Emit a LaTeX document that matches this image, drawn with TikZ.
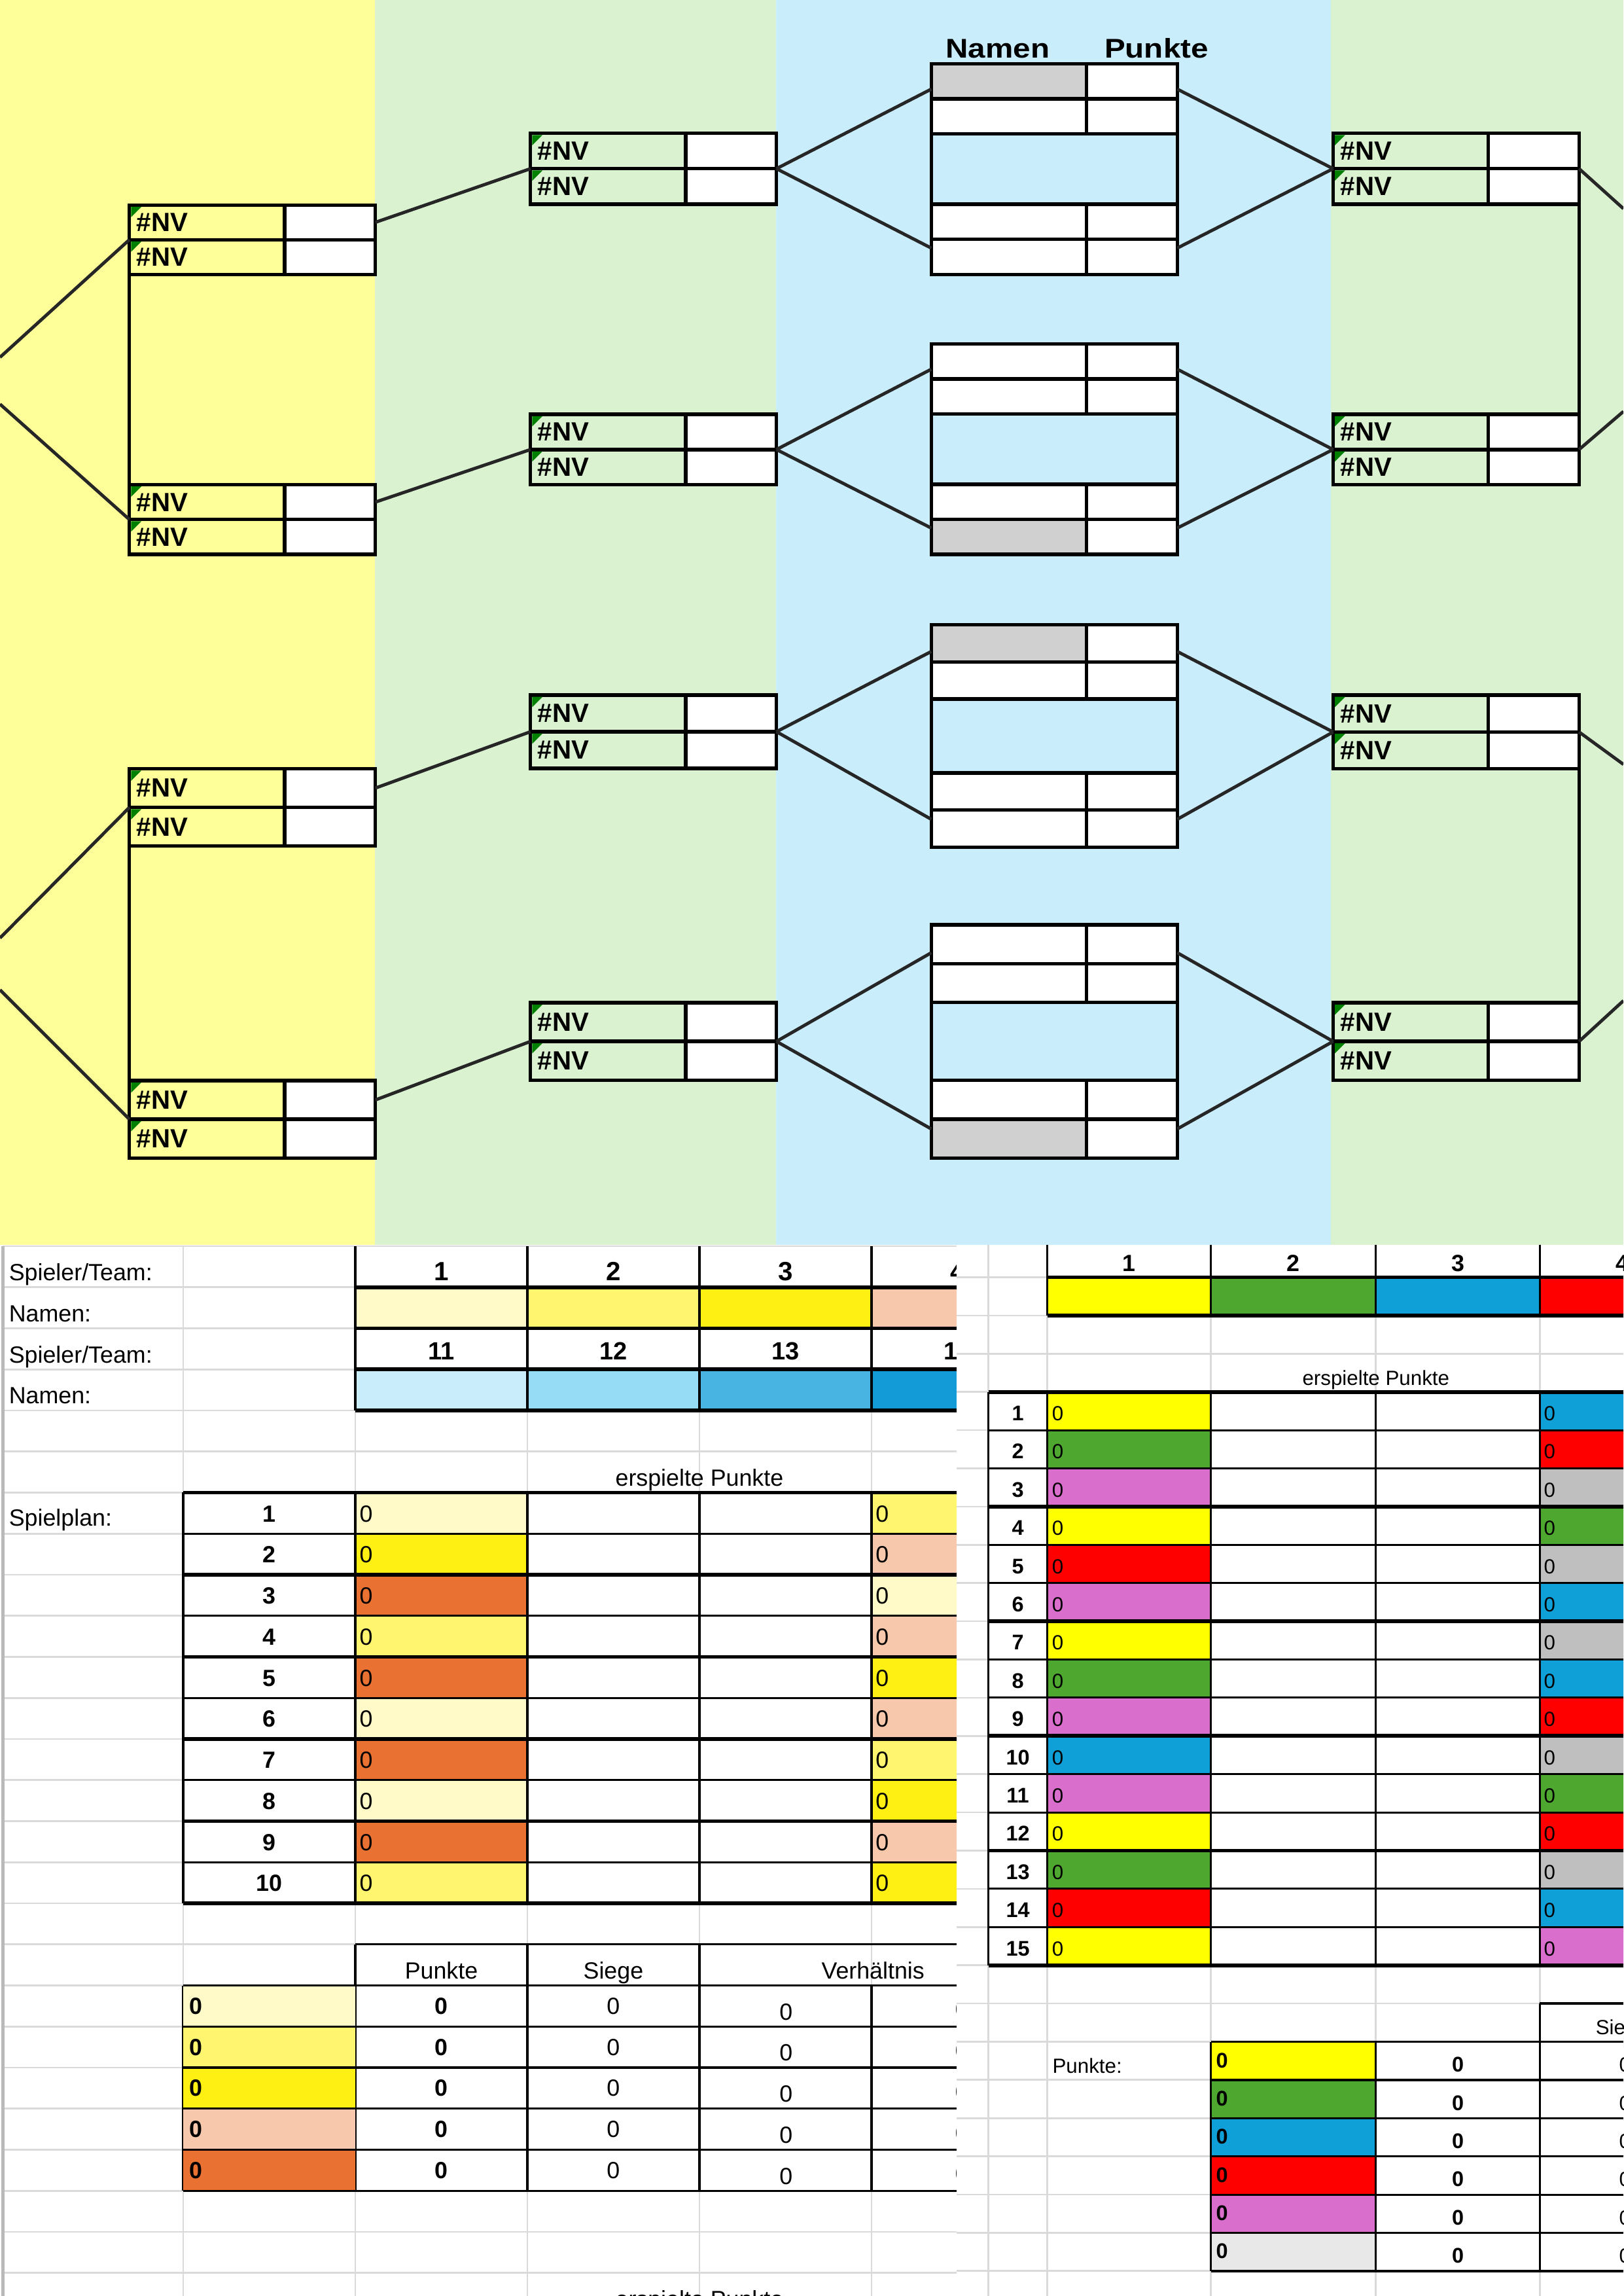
\documentclass[tikz,border=0pt]{standalone}
\usepackage{fontspec}
\setmainfont{Liberation Sans}
\newfontfamily\widefont[FakeStretch=1.15]{Liberation Sans}
\usepackage{tikz}
\usetikzlibrary{positioning}

\definecolor{yellowbg}{RGB}{255,255,153}
\definecolor{greenbg}{RGB}{218,242,208}
\definecolor{bluebg}{RGB}{202,237,251}
\definecolor{cellgray}{RGB}{208,208,208}
\definecolor{errgreen}{RGB}{0,128,0}
\definecolor{gridgray}{RGB}{218,218,218}
\definecolor{linegray}{RGB}{38,38,38}
% left sheet
\definecolor{lcream}{RGB}{255,250,200}
\definecolor{lymid}{RGB}{255,245,110}
\definecolor{lybright}{RGB}{255,240,20}
\definecolor{lpeach}{RGB}{248,200,172}
\definecolor{lorange}{RGB}{233,113,50}
\definecolor{lblueA}{RGB}{202,237,251}
\definecolor{lblueB}{RGB}{150,220,245}
\definecolor{lblueC}{RGB}{72,180,225}
\definecolor{lblueD}{RGB}{18,155,215}
% right sheet
\definecolor{xyellow}{RGB}{255,255,0}
\definecolor{xgreen}{RGB}{78,167,46}
\definecolor{xblue}{RGB}{16,160,216}
\definecolor{xred}{RGB}{255,0,0}
\definecolor{xpink}{RGB}{217,110,205}
\definecolor{xsilver}{RGB}{191,191,191}
\definecolor{xlight}{RGB}{232,232,232}

% two-row box: #1 name, #2 left, #3 top, #4 row height
\newcommand{\nvbox}[4]{%
  \node[namecell, minimum height=#4pt] (#1-a) at (#2,#3) {\#NV};
  \node[pointcell, minimum height=#4pt, right=0pt of #1-a] (#1-ap) {};
  \node[namecell, minimum height=#4pt, below=0pt of #1-a] (#1-b) {\#NV};
  \node[pointcell, minimum height=#4pt, right=0pt of #1-b] (#1-bp) {};
  \foreach \cell in {#1-a,#1-b}
    \fill[errgreen] ([shift={(1.2,1.2)}]\cell.north west) -- ++(7,0) -- ++(-7,7) -- cycle;
}
% semifinal box: two rows, open middle, two rows; #5/#6 fill of first/last name cell
\newcommand{\ptbox}[6]{%
  \pgfmathsetmacro\gap{2*#4}
  \node[blankcell, fill=#5, minimum height=#4pt] (#1-1) at (#2,#3) {};
  \node[pointcell, minimum height=#4pt, right=0pt of #1-1] (#1-1p) {};
  \node[blankcell, minimum height=#4pt, below=0pt of #1-1] (#1-2) {};
  \node[pointcell, minimum height=#4pt, right=0pt of #1-2] (#1-2p) {};
  \node[blankcell, minimum height=#4pt, below=\gap pt of #1-2] (#1-3) {};
  \node[pointcell, minimum height=#4pt, right=0pt of #1-3] (#1-3p) {};
  \node[blankcell, fill=#6, minimum height=#4pt, below=0pt of #1-3] (#1-4) {};
  \node[pointcell, minimum height=#4pt, right=0pt of #1-4] (#1-4p) {};
  \draw[boxline] (#1-2.south west) -- (#1-3.north west);
  \draw[boxline] (#1-2p.south east) -- (#1-3p.north east);
  \path (#1-1.north west) ++(0,0.72*#4) coordinate (#1-ul) ++(0,4.53*#4) coordinate (#1-ll);
  \path (#1-1p.north east) ++(0,0.72*#4) coordinate (#1-ur) ++(0,4.53*#4) coordinate (#1-lr);
}

\begin{document}
\begin{tikzpicture}[x=1pt,y=1pt,yscale=-1,
  namecell/.style={draw, line width=2.4pt, outer sep=0pt, anchor=north west, minimum width=106pt,
    text width=96pt, inner xsep=5pt, inner ysep=0pt, align=left, font=\bfseries\fontsize{18}{18}\selectfont},
  pointcell/.style={draw, fill=white, line width=2.4pt, outer sep=0pt, anchor=north west, minimum width=62pt, inner sep=0pt},
  blankcell/.style={draw, fill=white, line width=2.4pt, outer sep=0pt, anchor=north west, minimum width=106pt, inner sep=0pt},
  boxline/.style={line width=2.4pt},
  link/.style={draw=linegray, line width=2.2pt},
  colhead/.style={inner sep=0pt, font=\widefont\bfseries\fontsize{18.5}{20}\selectfont},
  sheetgrid/.style={draw=gridgray, line width=1.2pt},
  thinrule/.style={line width=1.4pt},
  thickrule/.style={line width=2.6pt},
  ltext/.style={inner sep=0pt, font=\fontsize{16}{18}\selectfont},
  lbold/.style={inner sep=0pt, font=\bfseries\fontsize{16}{18}\selectfont},
  lhead/.style={inner sep=0pt, font=\bfseries\fontsize{18}{20}\selectfont},
  rtext/.style={inner sep=0pt, font=\fontsize{14}{16}\selectfont},
  rbold/.style={inner sep=0pt, font=\bfseries\fontsize{14.5}{16}\selectfont}]
\useasboundingbox (0,0) rectangle (1109,1568);
\clip (0,0) rectangle (1109,1568);
\fill[white] (0,0) rectangle (1109,1568);

% bracket backgrounds
\fill[yellowbg] (0,0) rectangle (256,850);
\fill[greenbg] (256,0) rectangle (530,850);
\fill[bluebg] (530,0) rectangle (909,850);
\fill[greenbg] (909,0) rectangle (1109,850);

% rounds 1, 2 and 4
\foreach \nm/\bx/\by/\bh in {r1a/88.4/140/23.7, r1b/88.4/331/23.8, r1c/88.4/525/26.4, r1d/88.4/738/26.4,
    r2a/362.4/91/24.2, r2b/362.4/283/24, r2c/362.4/474.7/25, r2d/362.4/684.8/26.4,
    r4a/910.7/91/24.2, r4b/910.7/283/24, r4c/910.7/474.7/25.2, r4d/910.7/684.8/26.4}
  {\nvbox{\nm}{\bx}{\by}{\bh}}
% round 3
\foreach \nm/\bx/\by/\bh/\ca/\cb in {r3a/636.2/43.6/23.97/cellgray/white, r3b/636.2/234.9/23.95/white/cellgray,
    r3c/636.2/426.7/25.3/cellgray/white, r3d/636.2/631.5/26.57/white/cellgray}
  {\ptbox{\nm}{\bx}{\by}{\bh}{\ca}{\cb}}

% Text Node
\node[colhead, anchor=base] (hnam) at (681.6,39.5) {Namen};
% Text Node
\node[colhead, anchor=base] (hpkt) at (790,39.5) {Punkte};

\draw[boxline] (r1a-b.south west) -- (r1b-a.north west);
\draw[boxline] (r1c-b.south west) -- (r1d-a.north west);
\draw[boxline] (r4a-bp.south east) -- (r4b-ap.north east);
\draw[boxline] (r4c-bp.south east) -- (r4d-ap.north east);

\coordinate (ina) at (0,244);
\coordinate (inb) at (0,276);
\coordinate (inc) at (0,640.6);
\coordinate (ind) at (0,676);
\coordinate (outa) at (1109,142.5);
\coordinate (outb) at (1109,281);
\coordinate (outc) at (1109,522);
\coordinate (outd) at (1109,683.4);

\draw[link] (ina) -- (r1a-a.south west);
\draw[link] (inb) -- (r1b-a.south west);
\draw[link] (inc) -- (r1c-a.south west);
\draw[link] (ind) -- (r1d-a.south west);
\foreach \k in {a,b,c,d}{
  \draw[link] (r1\k-ap.east) -- (r2\k-a.south west);
  \draw[link] (r2\k-ap.south east) -- (r3\k-ul);
  \draw[link] (r2\k-ap.south east) -- (r3\k-ll);
  \draw[link] (r3\k-ur) -- (r4\k-a.south west);
  \draw[link] (r3\k-lr) -- (r4\k-a.south west);
  \draw[link] (r4\k-ap.south east) -- (out\k);
}

% ---- left sheet ----
\begin{scope}
\clip (0,850) rectangle (653.4,1568);
\foreach \r in {0,...,26}
  \draw[sheetgrid] (2,{851+28.05*\r}) -- (653.4,{851+28.05*\r});
\foreach \c in {125.15,242.7,360.25,477.8,595.35}
  \draw[sheetgrid] (\c,851) -- (\c,1568);
\draw[sheetgrid, line width=2.2pt, draw=gray!55] (2,851) -- (2,1568);

\foreach \c/\col in {0/lcream,1/lymid,2/lybright,3/lpeach}
  \fill[\col] ({242.7+117.55*\c},879.05) rectangle ++(117.55,28.05);
\foreach \c/\col in {0/lblueA,1/lblueB,2/lblueC,3/lblueD}
  \fill[\col] ({242.7+117.55*\c},935.15) rectangle ++(117.55,28.05);
\foreach \r in {1,...,4}
  \draw[thickrule] (242.7,{851+28.05*\r}) -- (653.4,{851+28.05*\r});
\foreach \c in {0,...,3}
  \draw[thinrule] ({242.7+117.55*\c},851) -- ({242.7+117.55*\c},963.2);

% Text Node
\node[ltext, anchor=base west] (ls1) at (6,874.5) {Spieler/Team:};
\node[ltext, anchor=base west] (ln1) at (6,902.6) {Namen:};
\node[ltext, anchor=base west] (ls2) at (6,930.6) {Spieler/Team:};
\node[ltext, anchor=base west] (ln2) at (6,958.7) {Namen:};
\foreach \c in {1,...,4}{
  \pgfmathtruncatemacro\m{\c+10}
  \node[lhead, anchor=base] (lt\c) at ({301.5+117.55*(\c-1)},874.6) {\c};
  \node[lbold, font=\bfseries\fontsize{17}{18}\selectfont, anchor=base] (lu\c) at ({301.5+117.55*(\c-1)},928.5) {\m};
}

% Spielplan
\node[ltext, anchor=base] (lep) at (477.8,1015) {erspielte Punkte};
\node[ltext, anchor=base west] (lspl) at (6,1042.3) {Spielplan:};
\foreach \i/\ca/\cb in {1/lcream/lymid, 2/lybright/lpeach, 3/lorange/lcream, 4/lymid/lpeach, 5/lorange/lybright,
    6/lcream/lpeach, 7/lorange/lymid, 8/lcream/lybright, 9/lorange/lpeach, 10/lymid/lybright}{
  \pgfmathsetmacro\yt{1019.3+28.05*(\i-1)}
  \fill[\ca] (242.7,\yt) rectangle ++(117.55,28.05);
  \fill[\cb] (595.35,\yt) rectangle ++(117.55,28.05);
  \node[lbold, anchor=base] (lpn\i) at (184,\yt+20) {\i};
  \node[ltext, anchor=base west] (lpa\i) at (245.5,\yt+20) {0};
  \node[ltext, anchor=base west] (lpb\i) at (598,\yt+20) {0};
}
\foreach \r in {0,2,4,6,8,10}
  \draw[thickrule] (125.15,{1019.3+28.05*\r}) -- (653.4,{1019.3+28.05*\r});
\foreach \r in {1,3,5,7,9}
  \draw[thinrule] (125.15,{1019.3+28.05*\r}) -- (653.4,{1019.3+28.05*\r});
\foreach \c in {125.15,242.7,360.25,477.8,595.35}
  \draw[thinrule] (\c,1019.3) -- (\c,1299.8);

% results
\draw[thinrule] (242.7,1327.85) -- (653.4,1327.85);
\foreach \c in {242.7,360.25,477.8}
  \draw[thinrule] (\c,1327.85) -- (\c,1496.15);
\foreach \c in {125.15,595.35}
  \draw[thinrule] (\c,1355.9) -- (\c,1496.15);
\node[ltext, anchor=base] (lhp) at (301.5,1351.4) {Punkte};
\node[ltext, anchor=base] (lhs) at (419,1351.4) {Siege};
\node[ltext, anchor=base] (lhv) at (596.35,1351.4) {Verhältnis};
\foreach \i/\col in {1/lcream,2/lymid,3/lybright,4/lpeach,5/lorange}{
  \pgfmathsetmacro\yt{1355.9+28.05*(\i-1)}
  \fill[\col] (125.15,\yt) rectangle ++(117.55,28.05);
  \node[lbold, anchor=base west] (lra\i) at (129,\yt+19.6) {0};
  \node[lbold, anchor=base] (lrb\i) at (301.5,\yt+19.6) {0};
  \node[ltext, anchor=base] (lrc\i) at (419,\yt+19.6) {0};
  \node[ltext, anchor=base] (lrd\i) at (537,\yt+23.5) {0};
  \node[ltext, anchor=base] (lre\i) at (657,\yt+22) {0};
}
\foreach \r in {0,...,5}
  \draw[thinrule] (125.15,{1355.9+28.05*\r}) -- (653.4,{1355.9+28.05*\r});
\node[ltext, anchor=base] (lep2) at (477.8,1576) {erspielte Punkte};
\end{scope}

% ---- right sheet ----
\foreach \r in {1,...,28}
  \draw[sheetgrid] (653.4,{846.2+26.1*\r}) -- (1109,{846.2+26.1*\r});
\foreach \c in {675.2,715.4,827.2,939.9,1051.9}
  \draw[sheetgrid] (\c,850) -- (\c,1568);

\foreach \x/\col in {715.4/xyellow,827.2/xgreen,939.9/xblue,1051.9/xred}
  \fill[\col] (\x,872.3) rectangle ++(112.3,26.1);
\draw[thickrule] (715.4,872.3) -- (1109,872.3);
\draw[thickrule] (715.4,898.4) -- (1109,898.4);
\foreach \c in {715.4,827.2,939.9,1051.9}
  \draw[thinrule] (\c,850) -- (\c,898.4);
\foreach \c/\x in {1/771.3,2/883.55,3/995.9,4/1108.2}
  \node[rbold, font=\bfseries\fontsize{16}{18}\selectfont, anchor=base] (rt\c) at (\x,868.3) {\c};
\node[rtext, anchor=base] (rep) at (939.9,946) {erspielte Punkte};

\foreach \i/\ca/\cb in {1/xyellow/xblue, 2/xgreen/xred, 3/xpink/xsilver, 4/xyellow/xgreen, 5/xred/xsilver,
    6/xpink/xblue, 7/xyellow/xsilver, 8/xgreen/xblue, 9/xpink/xred, 10/xblue/xsilver,
    11/xpink/xgreen, 12/xyellow/xred, 13/xgreen/xsilver, 14/xred/xblue, 15/xyellow/xpink}{
  \pgfmathsetmacro\yt{950.6+26.1*(\i-1)}
  \fill[\ca] (715.4,\yt) rectangle ++(111.8,26.1);
  \fill[\cb] (1051.9,\yt) rectangle ++(112.3,26.1);
  \node[rbold, anchor=base] (rpn\i) at (695.3,\yt+19.6) {\i};
  \node[rtext, anchor=base west] (rpa\i) at (718.5,\yt+19.6) {0};
  \node[rtext, anchor=base west] (rpb\i) at (1054.5,\yt+19.6) {0};
}
\foreach \r in {0,3,6,9,12,15}
  \draw[thickrule] (675.2,{950.6+26.1*\r}) -- (1109,{950.6+26.1*\r});
\foreach \r in {1,2,4,5,7,8,10,11,13,14}
  \draw[thinrule] (675.2,{950.6+26.1*\r}) -- (1109,{950.6+26.1*\r});
\foreach \c in {675.2,715.4,827.2,939.9,1051.9}
  \draw[thinrule] (\c,950.6) -- (\c,1342.1);

% points
\draw[thinrule] (1051.9,1368.2) -- (1109,1368.2);
\draw[thinrule] (1051.9,1368.2) -- (1051.9,1551);
\node[rtext, anchor=base] (rsg) at (1108,1389.6) {Siege};
\node[rtext, anchor=base west] (rpk) at (718.8,1415.6) {Punkte:};
\foreach \i/\col in {1/xyellow,2/xgreen,3/xblue,4/xred,5/xpink,6/xlight}{
  \pgfmathsetmacro\yt{1394.4+26.1*(\i-1)}
  \fill[\col] (827.2,\yt) rectangle ++(112.7,26.1);
  \node[rbold, anchor=base west] (rsa\i) at (830.5,\yt+17.6) {0};
  \node[rbold, anchor=base] (rsb\i) at (995.9,\yt+20.6) {0};
  \node[rtext, anchor=base] (rsc\i) at (1110,\yt+20.6) {0};
}
\foreach \r in {0,...,6}
  \draw[thinrule] (827.2,{1394.4+26.1*\r}) -- (1109,{1394.4+26.1*\r});
\foreach \c in {827.2,939.9}
  \draw[thinrule] (\c,1394.4) -- (\c,1551);
\end{tikzpicture}
\end{document}
